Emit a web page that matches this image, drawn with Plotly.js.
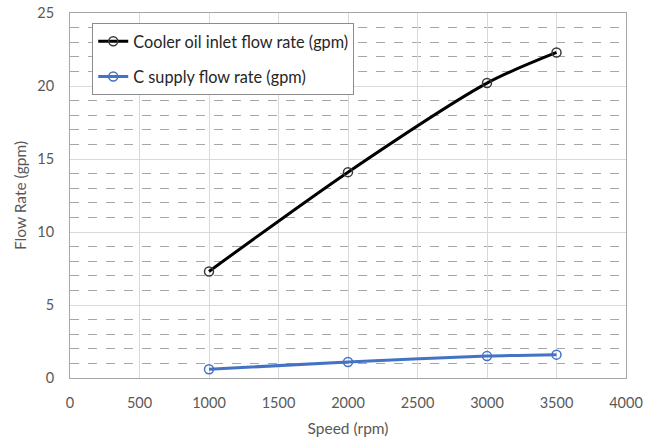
<!DOCTYPE html>
<html>
<head>
<meta charset="utf-8">
<script src="https://cdn.plot.ly/plotly-3.0.1.min.js"></script>
<style>
  html, body { margin: 0; padding: 0; background: #fff; }
  #chart { width: 658px; height: 441px; }
</style>
</head>
<body>
<div id="chart"></div>
<script>
// Shaft speed (rpm)
const speed = [1000, 2000, 3000, 3500];
// Flow rates (gpm)
const coolerOilInlet = [7.3, 14.1, 20.2, 22.3];
const cSupply = [0.6, 1.1, 1.5, 1.6];
const seriesNames = ['Cooler oil inlet flow rate (gpm)', 'C supply flow rate (gpm)'];

const FONT = 'Lato, "Open Sans", "Liberation Sans", sans-serif';

const traces = [
  {
    x: speed, y: coolerOilInlet, name: seriesNames[0],
    type: 'scatter', mode: 'lines+markers', legendgroup: 'a',
    line: { color: '#000000', width: 3, shape: 'spline', smoothing: 0.8 },
    marker: { symbol: 'circle-open', size: 9, color: '#3a3a3a', line: { width: 1.5 } }
  },
  {
    x: speed, y: cSupply, name: seriesNames[1],
    type: 'scatter', mode: 'lines+markers', legendgroup: 'b',
    line: { color: '#4472C4', width: 3, shape: 'spline', smoothing: 0.8 },
    marker: { symbol: 'circle-open', size: 9, color: '#4472C4', line: { width: 1.5 } }
  }
];

const layout = {
  width: 658, height: 441,
  margin: { l: 70, r: 32, t: 13, b: 63 },
  paper_bgcolor: '#ffffff', plot_bgcolor: '#ffffff',
  font: { family: FONT, size: 14, color: '#595959' },
  showlegend: true,
  legend: {
    x: 0.04, y: 0.972, xanchor: 'left', yanchor: 'top',
    bgcolor: '#ffffff', bordercolor: '#8c8c8c', borderwidth: 1,
    font: { family: FONT, size: 16.3, color: '#262626' },
    tracegroupgap: 11, itemwidth: 30
  },
  xaxis: {
    range: [0, 4000], dtick: 500, tick0: 0,
    showgrid: true, gridcolor: '#d9d9d9', gridwidth: 1,
    zeroline: false, showline: true, linecolor: '#a6a6a6', linewidth: 1, mirror: true,
    ticks: '', ticklen: 0, ticklabelstandoff: 12,
    tickfont: { family: FONT, size: 14.5, color: '#595959' },
    title: { text: 'Speed (rpm)', font: { family: FONT, size: 15.5, color: '#595959' }, standoff: 12 }
  },
  yaxis: {
    range: [0, 25], dtick: 5, tick0: 0,
    showgrid: true, gridcolor: '#d9d9d9', gridwidth: 1,
    zeroline: false, showline: true, linecolor: '#a6a6a6', linewidth: 1, mirror: true,
    ticks: '', ticklen: 0, ticklabelstandoff: 12,
    minor: { dtick: 1, showgrid: true, gridcolor: '#a6a6a6', griddash: 'dash', gridwidth: 1 },
    tickfont: { family: FONT, size: 14.5, color: '#595959' },
    title: { text: 'Flow Rate (gpm)', font: { family: FONT, size: 15.5, color: '#595959' }, standoff: 6 }
  }
};

Plotly.newPlot('chart', traces, layout, { displayModeBar: false, staticPlot: true });
</script>
</body>
</html>
